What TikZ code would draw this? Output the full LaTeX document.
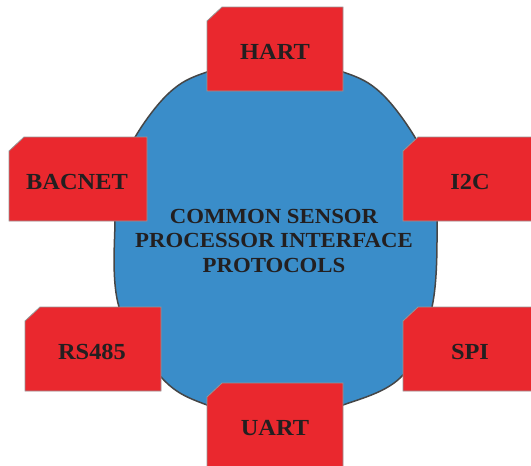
\documentclass[tikz,border=0pt]{standalone}
\usepackage{fontspec}
\setmainfont{Liberation Serif}
\definecolor{blobblue}{RGB}{58,141,201}
\definecolor{boxred}{RGB}{234,40,46}
\definecolor{boxedge}{RGB}{150,150,150}
\definecolor{blobedge}{RGB}{70,70,70}
\definecolor{inkdark}{RGB}{35,31,32}
\tikzset{
  protobox/.style={fill=boxred, draw=boxedge, line width=0.8pt},
  protolabel/.style={inner sep=0pt, text=inkdark,
    font=\fontsize{23}{26}\selectfont\bfseries},
  hublabel/.style={inner sep=0pt, text=inkdark, align=center,
    font=\fontsize{21.5}{24.5}\selectfont\bfseries},
}
% box with the top-left corner snipped off: left, top, right, bottom
\newcommand{\snipbox}[4]{%
  \path[protobox] (#1,#2+14) -- (#1+15,#2) -- (#3,#2) -- (#3,#4) -- (#1,#4) -- cycle;}
\begin{document}
\begin{tikzpicture}[x=1pt,y=-1pt]
\useasboundingbox (0,0) rectangle (531,466);

% central rounded body
\draw[fill=blobblue, draw=blobedge, line width=1.5pt]
  plot[smooth cycle, tension=0.6] coordinates {
    (275,57) (343,72) (381,93) (416,139) (432,180) (437,221) (432,307)
    (403,375) (343,405) (275,420) (207,405) (161,377) (119,307) (115,221)
    (120,180) (134,139) (169,93) (207,72)};

\node[hublabel] (hub) at (274,243)
  {\scalebox{1.06}[1]{\begin{tabular}{@{}c@{}}COMMON SENSOR\\PROCESSOR INTERFACE\\PROTOCOLS\end{tabular}}};

% protocol boxes
\snipbox{207}{7}{343}{91}
\node[protolabel] (hart) at (275,52) {\scalebox{1.06}[1]{HART}};

\snipbox{9}{137}{147}{221}
\node[protolabel] (bacnet) at (77,182) {\scalebox{1.06}[1]{BACNET}};

\snipbox{403}{137}{532}{221}
\node[protolabel] (i2c) at (470,182) {\scalebox{1.06}[1]{I2C}};

\snipbox{25}{307}{161}{391}
\node[protolabel] (rs485) at (92,352) {\scalebox{1.06}[1]{RS485}};

\snipbox{403}{307}{532}{391}
\node[protolabel] (spi) at (470,352) {\scalebox{1.06}[1]{SPI}};

\snipbox{207}{383}{343}{468}
\node[protolabel] (uart) at (275,428) {\scalebox{1.06}[1]{UART}};
\end{tikzpicture}
\end{document}
